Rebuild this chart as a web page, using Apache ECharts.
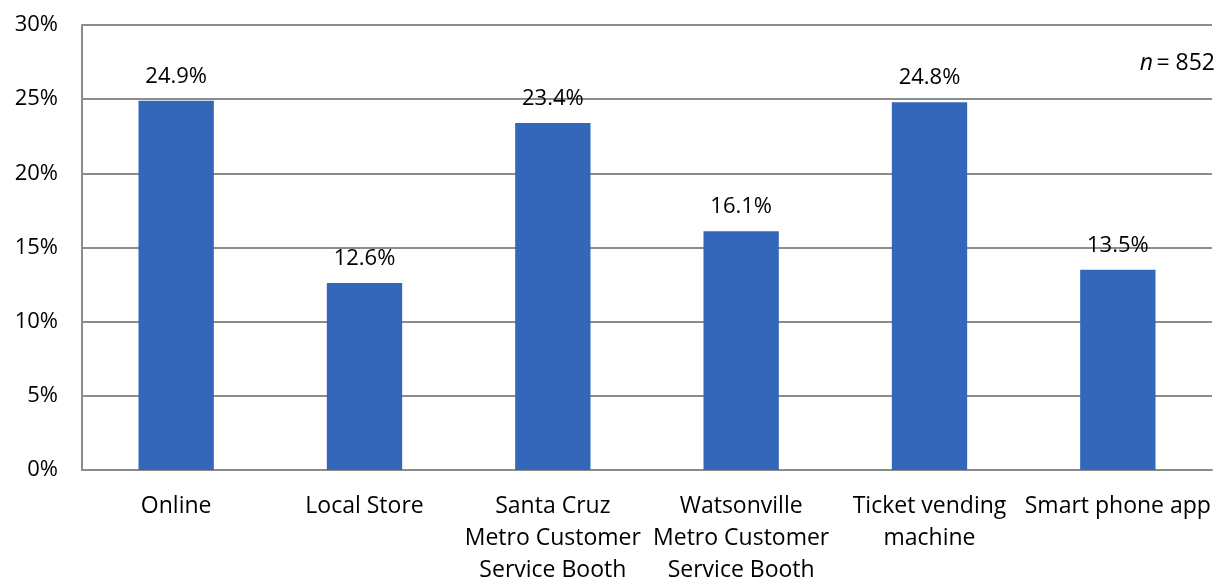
<!DOCTYPE html>
<html><head><meta charset="utf-8">
<script src="https://cdn.jsdelivr.net/npm/echarts@6/dist/echarts.min.js"></script>
<style>html,body{margin:0;padding:0;background:#fff}#c{width:1220px;height:579px}</style>
</head><body><div id="c"></div>
<script>
const categories = ["Online", "Local Store", "Santa Cruz\nMetro Customer\nService Booth", "Watsonville\nMetro Customer\nService Booth", "Ticket vending\nmachine", "Smart phone app"];
const values = [24.9, 12.6, 23.4, 16.1, 24.8, 13.5];
const yTicks = [0, 5, 10, 15, 20, 25, 30];
const FONT = "Open Sans";
const chart = echarts.init(document.getElementById('c'));
chart.setOption({
  animation: false,
  textStyle: {fontFamily: FONT},
  grid: {left: 82, right: 8, top: 25, bottom: 109, outerBoundsMode: 'none', containLabel: false},
  graphic: [{
    type: 'text', right: 5, top: 52,
    style: {rich: {i: {fontStyle: 'italic', fontSize: 23, fontFamily: FONT, fill: '#000'}, r: {fontSize: 23, fontFamily: FONT, fill: '#000'}},
      text: '{i|n} {r|= 852}'}
  }],
  xAxis: {
    type: 'category', data: categories,
    axisLine: {lineStyle: {color: '#8c8c8c', width: 2}},
    axisTick: {show: false},
    axisLabel: {color: '#000', fontSize: 23, lineHeight: 32, margin: 20, interval: 0}
  },
  yAxis: {
    type: 'value', min: yTicks[0], max: yTicks[yTicks.length - 1], interval: 5,
    axisLine: {show: true, lineStyle: {color: '#8c8c8c', width: 2}},
    splitLine: {lineStyle: {color: '#8c8c8c', width: 2}},
    axisLabel: {color: '#000', fontSize: 22, margin: 24, formatter: v => v + '%'}
  },
  series: [{
    type: 'bar', data: values, barWidth: '40%',
    itemStyle: {color: '#3466b9'},
    label: {show: true, position: 'top', distance: 13, color: '#000', fontSize: 22, formatter: p => p.value.toFixed(1) + '%'}
  }]
});
</script></body></html>
